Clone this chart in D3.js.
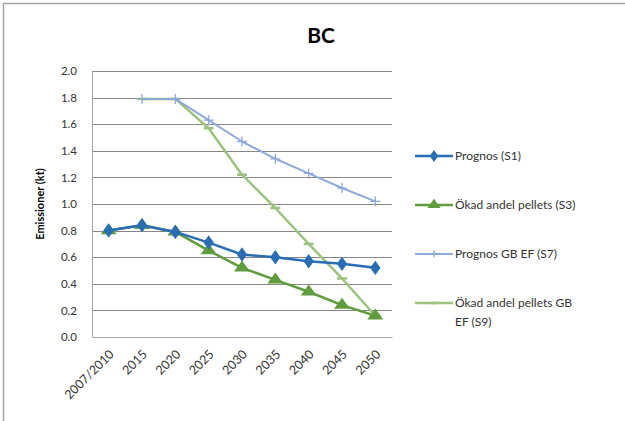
<!DOCTYPE html>
<html>
<head>
<meta charset="utf-8">
<script src="https://cdn.jsdelivr.net/npm/d3@7"></script>
<style>
  html, body { margin: 0; padding: 0; background: #fff; }
  svg { display: block; font-family: Lato, "Liberation Sans", sans-serif; }
</style>
</head>
<body>
<svg id="chart" width="625" height="421"></svg>
<script>
// Categories (years) and emissions of BC in kt for each scenario
const categories = ["2007/2010", "2015", "2020", "2025", "2030", "2035", "2040", "2045", "2050"];
const yTicks = [0.0, 0.2, 0.4, 0.6, 0.8, 1.0, 1.2, 1.4, 1.6, 1.8, 2.0];

const prognosS1 = [0.80, 0.84, 0.79, 0.71, 0.62, 0.60, 0.57, 0.55, 0.52];
const okadS3 = [0.80, 0.84, 0.79, 0.65, 0.52, 0.43, 0.34, 0.24, 0.16];
const prognosGbS7 = [null, 1.79, 1.79, 1.63, 1.47, 1.34, 1.23, 1.12, 1.02];
const okadGbS9 = [null, 1.79, 1.79, 1.57, 1.22, 0.97, 0.70, 0.44, 0.16];

const seriesNames = ["Prognos (S1)", "Ökad andel pellets (S3)", "Prognos GB EF (S7)", "Ökad andel pellets GB EF (S9)"];

const series = [
  { name: seriesNames[0], values: prognosS1, color: "#2a6db3", width: 2.5, marker: "diamond" },
  { name: seriesNames[1], values: okadS3, color: "#5f9c3e", width: 2.5, marker: "triangle" },
  { name: seriesNames[2], values: prognosGbS7, color: "#8fa9d8", width: 2, marker: "plus" },
  { name: seriesNames[3], values: okadGbS9, color: "#9cc27f", width: 2.5, marker: "dash" }
];

const svg = d3.select("#chart");

// Outer chart frame (left and top edges visible)
svg.append("line").attr("x1", 3.5).attr("x2", 3.5).attr("y1", 3).attr("y2", 421)
  .attr("stroke", "#a6a6a6").attr("stroke-width", 1.5);
svg.append("line").attr("x1", 3).attr("x2", 625).attr("y1", 3.5).attr("y2", 3.5)
  .attr("stroke", "#a6a6a6").attr("stroke-width", 1.5);

const plot = { left: 92, right: 392, top: 71, bottom: 337 };

const x = d3.scaleBand().domain(categories).range([plot.left, plot.right]);
const y = d3.scaleLinear().domain([0, 2]).range([plot.bottom, plot.top]);
const cx = c => x(c) + x.bandwidth() / 2;

// Title
svg.append("text").attr("x", 321).attr("y", 43).attr("text-anchor", "middle")
  .attr("font-size", 21).attr("font-weight", "bold").attr("fill", "#000").text("BC");

// Horizontal gridlines
svg.append("g").selectAll("line").data(yTicks.filter(t => t > 0)).join("line")
  .attr("x1", plot.left).attr("x2", plot.right)
  .attr("y1", d => Math.round(y(d)) + 0.5).attr("y2", d => Math.round(y(d)) + 0.5)
  .attr("stroke", "#868686").attr("stroke-width", 1.1);

// Y axis
const yAxis = svg.append("g").attr("transform", `translate(${plot.left},0)`)
  .call(d3.axisLeft(y).tickValues(yTicks).tickFormat(d3.format(".1f")).tickSize(0).tickPadding(15));
yAxis.select(".domain").attr("stroke", "#a6a6a6");
yAxis.selectAll("text").attr("font-size", 11.5).attr("fill", "#333").attr("font-family", "Lato, sans-serif");

// X axis
const xAxis = svg.append("g").attr("transform", `translate(0,${plot.bottom})`)
  .call(d3.axisBottom(x).tickSize(0).tickPadding(0));
xAxis.select(".domain").attr("stroke", "#a6a6a6");
xAxis.selectAll("text")
  .attr("font-size", 12.5).attr("fill", "#333").attr("font-family", "Lato, sans-serif")
  .attr("text-anchor", "end").attr("dy", 0)
  .attr("transform", "translate(6,18) rotate(-45)");

// Y axis title
svg.append("text").attr("transform", "translate(44,204) rotate(-90)")
  .attr("text-anchor", "middle").attr("font-size", 11).attr("font-weight", "bold")
  .attr("fill", "#000").text("Emissioner (kt)");

// Marker shapes
function drawMarker(g, type, color, px, py, scale = 1) {
  if (type === "diamond") {
    g.append("path").attr("d", d3.symbol(d3.symbolDiamond, 60 * scale)())
      .attr("transform", `translate(${px},${py}) scale(1.25,1)`).attr("fill", color);
  } else if (type === "triangle") {
    g.append("path").attr("d", d3.symbol(d3.symbolTriangle, 70 * scale)())
      .attr("transform", `translate(${px},${py}) scale(1.25,1)`).attr("fill", color);
  } else if (type === "plus") {
    const s = 5 * scale;
    g.append("path").attr("d", `M${px - s},${py}H${px + s}M${px},${py - s}V${py + s}`)
      .attr("stroke", color).attr("stroke-width", 1.3).attr("fill", "none");
  } else if (type === "dash") {
    const s = 5 * scale;
    g.append("path").attr("d", `M${px - s},${py}H${px + s}`)
      .attr("stroke", color).attr("stroke-width", 2.5).attr("fill", "none");
  }
}

const line = d3.line().defined(d => d.v != null).x(d => cx(d.c)).y(d => y(d.v));

// Series lines, drawn back to front
const drawOrder = [3, 2, 1, 0];
drawOrder.forEach(i => {
  const s = series[i];
  const pts = categories.map((c, k) => ({ c, v: s.values[k] }));
  const g = svg.append("g");
  g.append("path").datum(pts).attr("d", line)
    .attr("fill", "none").attr("stroke", s.color).attr("stroke-width", s.width)
    .attr("stroke-linejoin", "round");
  pts.filter(p => p.v != null).forEach(p => drawMarker(g, s.marker, s.color, cx(p.c), y(p.v)));
});

// Legend
const legendY = [156, 205, 254, 303];
series.forEach((s, i) => {
  const g = svg.append("g");
  const ly = legendY[i];
  g.append("line").attr("x1", 415).attr("x2", 453).attr("y1", ly).attr("y2", ly)
    .attr("stroke", s.color).attr("stroke-width", s.width);
  drawMarker(g, s.marker, s.color, 434, ly, 0.7);
  const t = g.append("text").attr("x", 455).attr("y", ly + 4)
    .attr("font-size", 12).attr("fill", "#333");
  if (i === 3) {
    t.append("tspan").attr("x", 455).text("Ökad andel pellets GB");
    t.append("tspan").attr("x", 455).attr("dy", 19).text("EF (S9)");
  } else {
    t.text(s.name);
  }
});
</script>
</body>
</html>
